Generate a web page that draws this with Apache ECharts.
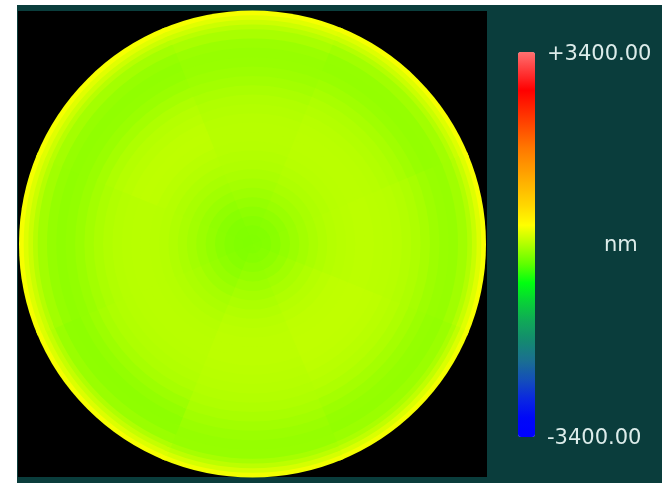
<!DOCTYPE html>
<html>
<head>
<meta charset="utf-8">
<script src="https://cdn.jsdelivr.net/npm/echarts@6/dist/echarts.min.js"></script>
<style>
html,body{margin:0;padding:0;background:#ffffff;}
#chart{width:662px;height:483px;}
</style>
</head>
<body>
<div id="chart"></div>
<script>
// ---- data (surface height in nm) ----
const valueMin = -3400;
const valueMax = 3400;
const barLabels = ['+3400.00', '-3400.00'];
const unitLabel = 'nm';
// normalized radius ring edges (0 = centre, 1 = rim)
const ringEdges = [0,0.04,0.08,0.12,0.16,0.20,0.24,0.28,0.32,0.36,0.40,0.44,0.48,0.52,0.56,0.60,0.64,0.68,0.72,0.76,0.80,0.84,0.88,0.92,0.94,0.96,0.98,1.00];
// direction centres (degrees clockwise from top)
const directions = [0,45,90,135,180,225,270,315];
// radial height profiles, one per direction (nm)
const heightN  = [-200,-195,-175,-145,-110,-75,-45,-20,0,15,25,30,30,25,15,0,-25,-55,-80,-100,-105,-90,-30,40,120,210,300];
const heightNE = [-200,-190,-165,-130,-95,-60,-30,-5,15,30,40,45,45,40,30,15,-5,-35,-70,-100,-120,-115,-60,20,110,200,300];
const heightE  = [-195,-185,-160,-125,-90,-55,-25,0,20,35,45,50,50,45,40,30,15,-10,-40,-75,-100,-110,-65,10,100,200,300];
const heightSE = [-190,-175,-145,-105,-65,-30,0,25,45,60,65,70,70,65,55,40,20,-10,-45,-85,-115,-125,-90,-20,70,180,290];
const heightS  = [-195,-180,-150,-115,-80,-45,-15,10,30,45,50,50,50,45,35,25,15,-5,-30,-60,-90,-110,-105,-40,50,160,280];
const heightSW = [-200,-195,-175,-145,-110,-75,-40,-15,5,20,30,35,35,30,20,10,-10,-40,-80,-120,-145,-140,-95,0,90,190,300];
const heightW  = [-205,-200,-185,-160,-125,-90,-55,-25,0,20,30,35,35,30,20,5,-20,-55,-95,-125,-135,-115,-60,20,110,200,300];
const heightNW = [-205,-200,-190,-165,-130,-95,-60,-30,-5,20,40,55,60,55,40,20,-10,-50,-95,-125,-130,-110,-50,30,120,210,300];
const profiles = [heightN, heightNE, heightE, heightSE, heightS, heightSW, heightW, heightNW];

// colour scale (blue -> green -> yellow -> red -> pink)
const scaleColors = ['#0000ff','#0008f8','#0a28e0','#1450b8','#1a7090','#148a70','#10a858','#08d038','#00ff10','#60ff00','#b0ff00','#ffff00','#ffd800','#ffb800','#ff9800','#ff7800','#ff5000','#ff2800','#ff0000','#ff3838','#ff7070'];

// build sector table from the arrays: [angleStart, angleEnd, ringInner, ringOuter, value, ringIndex]
const sectorData = [];
const halfStep = 360 / directions.length / 2;
directions.forEach(function (d, di) {
  const prof = profiles[di];
  for (let i = 0; i < ringEdges.length - 1; i++) {
    sectorData.push([d - halfStep, d + halfStep, ringEdges[i], ringEdges[i + 1], prof[i], i]);
  }
});

const chart = echarts.init(document.getElementById('chart'), null, {renderer: 'canvas'});
const teal = '#0a3d3c';
const textFont = '21px "DejaVu Sans"';
const ringCount = ringEdges.length - 1;

chart.setOption({
  backgroundColor: '#ffffff',
  animation: false,
  polar: { center: [252.5, 244], radius: 233.5 },
  radiusAxis: { type: 'value', min: 0, max: 1, show: false },
  angleAxis: { type: 'value', min: 0, max: 360, startAngle: 90, clockwise: true, show: false },
  visualMap: {
    type: 'continuous',
    min: valueMin,
    max: valueMax,
    dimension: 4,
    seriesIndex: 0,
    orient: 'vertical',
    left: 518,
    top: 52,
    padding: 0,
    itemWidth: 17,
    itemHeight: 385,
    calculable: false,
    hoverLink: false,
    text: null,
    showLabel: false,
    inRange: { color: scaleColors }
  },
  graphic: {
    elements: [
      { type: 'rect', z: -2, silent: true, shape: { x: 17, y: 5, width: 645, height: 478 }, style: { fill: teal } },
      { type: 'rect', z: -1, silent: true, shape: { x: 18, y: 11, width: 469, height: 466 }, style: { fill: '#000000' } },
      { type: 'text', z: 5, silent: true, x: 547, y: 55, style: { text: barLabels[0], fill: '#dcecea', font: textFont, textAlign: 'left', textVerticalAlign: 'middle', align: 'left', verticalAlign: 'middle' } },
      { type: 'text', z: 5, silent: true, x: 547, y: 439, style: { text: barLabels[1], fill: '#dcecea', font: textFont, textAlign: 'left', textVerticalAlign: 'middle', align: 'left', verticalAlign: 'middle' } },
      { type: 'text', z: 5, silent: true, x: 604, y: 246, style: { text: unitLabel, fill: '#dcecea', font: textFont, textAlign: 'left', textVerticalAlign: 'middle', align: 'left', verticalAlign: 'middle' } }
    ]
  },
  series: [{
    type: 'custom',
    coordinateSystem: 'polar',
    silent: true,
    dimensions: ['a0', 'a1', 'r0', 'r1', 'value', 'ring'],
    encode: { angle: 0, radius: 2 },
    data: sectorData,
    renderItem: function (params, api) {
      const cs = params.coordSys;
      const cx = cs.cx, cy = cs.cy;
      const overlap = 0.6;
      const a0 = api.value(0) - overlap, a1 = api.value(1) + overlap;
      const rout = api.value(3);
      const ring = api.value(5);
      const pOut0 = api.coord([rout, a0]);
      const pOut1 = api.coord([rout, a1]);
      const rPixOut = Math.hypot(pOut0[0] - cx, pOut0[1] - cy);
      let s = Math.atan2(pOut0[1] - cy, pOut0[0] - cx);
      let e = Math.atan2(pOut1[1] - cy, pOut1[0] - cx);
      if (e < s) e += Math.PI * 2;
      const c = api.visual('color');
      return {
        type: 'sector',
        z2: ringCount - ring,
        shape: { cx: cx, cy: cy, r0: 0, r: rPixOut, startAngle: s, endAngle: e, clockwise: true },
        style: { fill: c }
      };
    }
  }]
});
</script>
</body>
</html>
